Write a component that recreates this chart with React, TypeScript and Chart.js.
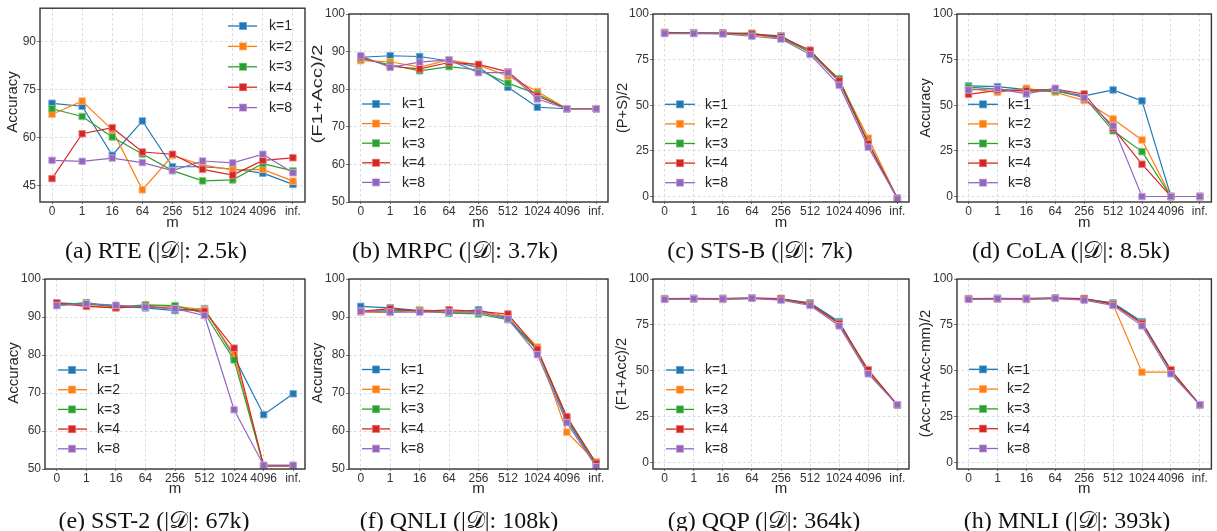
import React, { useEffect, useRef } from "react";
import { Chart, registerables } from "chart.js";
Chart.register(...registerables);

// ---------------- DATA ----------------
const mLabels = ["0", "1", "16", "64", "256", "512", "1024", "4096", "inf."];
const seriesNames = ["k=1", "k=2", "k=3", "k=4", "k=8"];
const seriesColors = ["#1f77b4", "#ff7f0e", "#2ca02c", "#d62728", "#9467bd"];
const seriesEdges = ["rgba(120,170,215,0.9)", "rgba(255,180,120,0.9)", "rgba(130,200,130,0.9)", "rgba(235,130,130,0.9)", "rgba(195,170,220,0.9)"];

// (a) RTE
const rteK1 = [70.8, 69.9, 54.6, 65.3, 51.0, 51.0, 50.3, 49.0, 45.5];
const rteK2 = [67.4, 71.5, 62.5, 43.8, 54.5, 51.5, 50.0, 50.2, 46.5];
const rteK3 = [69.1, 66.7, 60.3, 55.0, 49.8, 46.6, 46.9, 52.0, 49.7];
const rteK4 = [47.3, 61.3, 63.2, 55.6, 54.9, 50.2, 48.4, 53.0, 53.8];
const rteK8 = [53.0, 52.7, 53.7, 52.3, 49.8, 52.8, 52.2, 54.9, 49.1];
// (b) MRPC
const mrpcK1 = [88.5, 88.9, 88.7, 87.5, 85.8, 80.5, 75.2, 74.8, 74.8];
const mrpcK2 = [87.6, 87.3, 85.9, 87.8, 86.4, 83.5, 79.4, 74.8, 74.8];
const mrpcK3 = [88.2, 86.5, 84.9, 86.0, 85.1, 81.6, 78.7, 74.8, 74.8];
const mrpcK4 = [88.5, 86.1, 85.4, 87.1, 86.6, 84.6, 78.2, 74.8, 74.8];
const mrpcK8 = [88.9, 85.8, 87.2, 87.8, 84.4, 84.4, 77.4, 74.8, 74.8];
// (c) STS-B
const stsbK1 = [89.8, 89.8, 89.4, 89.0, 88.0, 79.0, 63.0, 29.0, -1];
const stsbK2 = [89.6, 89.5, 89.3, 88.8, 86.5, 79.5, 63.5, 32.0, -1];
const stsbK3 = [89.9, 89.6, 89.5, 89.5, 87.0, 79.0, 64.5, 29.5, -1];
const stsbK4 = [89.7, 89.4, 89.6, 89.0, 87.5, 80.2, 63.5, 29.0, -1];
const stsbK8 = [89.3, 89.3, 89.1, 87.8, 86.3, 77.8, 61.0, 27.0, -1];
// (d) CoLA
const colaK1 = [60.6, 60.2, 58.6, 58.0, 55.1, 58.4, 52.4, 0, 0];
const colaK2 = [59.3, 57.1, 59.3, 57.1, 52.6, 42.5, 31.0, 0, 0];
const colaK3 = [59.9, 58.8, 57.7, 57.8, 54.4, 36.0, 24.6, 0, 0];
const colaK4 = [56.0, 58.2, 58.0, 58.8, 56.2, 37.4, 17.7, 0, 0];
const colaK8 = [58.4, 59.1, 56.2, 59.3, 54.0, 38.7, 0, 0, 0];
// (e) SST-2
const sstK1 = [93.7, 93.4, 92.8, 92.4, 91.7, 92.2, 79.5, 64.3, 69.8];
const sstK2 = [93.4, 93.0, 92.4, 93.0, 92.8, 91.9, 80.1, 50.8, 50.8];
const sstK3 = [93.1, 93.8, 92.6, 93.2, 93.0, 91.0, 78.7, 50.8, 50.8];
const sstK4 = [93.7, 92.8, 92.4, 92.8, 92.2, 91.5, 81.8, 50.8, 50.8];
const sstK8 = [93.0, 93.5, 93.1, 92.6, 92.2, 90.4, 65.6, 51.0, 51.0];
// (f) QNLI
const qnliK1 = [92.8, 92.4, 91.7, 91.2, 91.9, 89.7, 81.4, 62.9, 51.0];
const qnliK2 = [91.3, 91.2, 91.9, 91.5, 91.2, 90.3, 82.1, 59.7, 51.9];
const qnliK3 = [91.5, 91.7, 91.7, 91.0, 90.8, 89.3, 81.2, 63.4, 51.3];
const qnliK4 = [91.5, 92.2, 91.5, 91.9, 91.5, 90.8, 81.5, 63.8, 51.5];
const qnliK8 = [91.5, 91.3, 91.3, 91.3, 91.3, 89.5, 80.1, 62.2, 50.6];
// (g) QQP
const qqpK1 = [89.3, 89.5, 89.4, 89.6, 89.2, 87.0, 76.8, 49.5, 31.5];
const qqpK2 = [89.0, 89.0, 88.8, 89.5, 89.0, 86.2, 75.5, 49.5, 31.5];
const qqpK3 = [89.2, 89.4, 89.3, 89.5, 89.1, 86.5, 76.0, 49.8, 31.5];
const qqpK4 = [89.1, 89.3, 89.4, 89.6, 89.4, 86.3, 75.8, 50.6, 31.5];
const qqpK8 = [88.9, 89.2, 89.1, 89.5, 88.5, 85.6, 74.5, 48.4, 31.5];
// (h) MNLI
const mnliK1 = [89.3, 89.5, 89.4, 89.6, 89.2, 87.0, 76.8, 50.0, 31.5];
const mnliK2 = [89.0, 89.0, 88.8, 89.5, 89.0, 86.2, 49.3, 49.3, 31.5];
const mnliK3 = [89.2, 89.4, 89.3, 89.5, 89.1, 86.5, 76.0, 49.8, 31.5];
const mnliK4 = [89.1, 89.3, 89.4, 89.6, 89.4, 86.3, 75.8, 50.6, 31.5];
const mnliK8 = [88.9, 89.2, 89.1, 89.5, 88.5, 85.6, 74.5, 48.4, 31.5];

const rteTicks = [45, 60, 75, 90];
const tenTicks = [50, 60, 70, 80, 90, 100];
const quarterTicks = [0, 25, 50, 75, 100];

const yTitles = ["Accuracy", "(F1+Acc)/2", "(P+S)/2", "Accuracy", "Accuracy", "Accuracy", "(F1+Acc)/2", "(Acc-m+Acc-mm)/2"];
const xTitle = "m";
const captionNames = ["(a) RTE", "(b) MRPC", "(c) STS-B", "(d) CoLA", "(e) SST-2", "(f) QNLI", "(g) QQP", "(h) MNLI"];
const captionSizes = ["2.5k", "3.7k", "7k", "8.5k", "67k", "108k", "364k", "393k"];

// ---------------- LAYOUT ----------------
const W = 1217;
const H = 531;
const YW = 40;
const XH = 30;
const SANS = "'Liberation Sans', Arial, sans-serif";
const TICK_FONT = { family: SANS, size: 12 };

type Lg = { x1: number; x2: number; mx: number; tx: number; y0: number; dy: number };
type PanelCfg = {
  series: number[][];
  yTitle: string;
  box: [number, number, number, number];
  yMin: number;
  yMax: number;
  yTicks: number[];
  yOff: number;
  yCy: number;
  yStretch: number;
  xOff: number;
  legend: Lg;
  cap: [number, number];
  capName: string;
  capSize: string;
};

const panels: PanelCfg[] = [
  { series: [rteK1, rteK2, rteK3, rteK4, rteK8], yTitle: yTitles[0], box: [40, 7, 305, 202], yMin: 40, yMax: 100.5, yTicks: rteTicks, yOff: 27, yCy: 102, yStretch: 1.0, xOff: 21, legend: { x1: 228, x2: 257, mx: 243, tx: 269, y0: 26, dy: 20.4 }, cap: [156, 250], capName: captionNames[0], capSize: captionSizes[0] },
  { series: [mrpcK1, mrpcK2, mrpcK3, mrpcK4, mrpcK8], yTitle: yTitles[1], box: [349, 14, 608, 202], yMin: 50, yMax: 100, yTicks: tenTicks, yOff: 31, yCy: 94, yStretch: 1.34, xOff: 21, legend: { x1: 362, x2: 390, mx: 376, tx: 402, y0: 104, dy: 19.6 }, cap: [455, 250], capName: captionNames[1], capSize: captionSizes[1] },
  { series: [stsbK1, stsbK2, stsbK3, stsbK4, stsbK8], yTitle: yTitles[2], box: [653, 14, 909, 202], yMin: -3, yMax: 100, yTicks: quarterTicks, yOff: 30, yCy: 108, yStretch: 0.98, xOff: 21, legend: { x1: 665, x2: 695, mx: 680, tx: 705, y0: 104.3, dy: 19.6 }, cap: [760, 250], capName: captionNames[2], capSize: captionSizes[2] },
  { series: [colaK1, colaK2, colaK3, colaK4, colaK8], yTitle: yTitles[3], box: [957, 14, 1215, 202], yMin: -3, yMax: 100, yTicks: quarterTicks, yOff: 31, yCy: 108, yStretch: 0.96, xOff: 21, legend: { x1: 968, x2: 998, mx: 983, tx: 1008, y0: 104.3, dy: 19.6 }, cap: [1071, 250], capName: captionNames[3], capSize: captionSizes[3] },
  { series: [sstK1, sstK2, sstK3, sstK4, sstK8], yTitle: yTitles[4], box: [45, 279, 305, 469], yMin: 50, yMax: 100, yTicks: tenTicks, yOff: 31, yCy: 373, yStretch: 1.0, xOff: 20, legend: { x1: 58, x2: 87, mx: 72, tx: 97, y0: 370, dy: 19.7 }, cap: [154, 520], capName: captionNames[4], capSize: captionSizes[4] },
  { series: [qnliK1, qnliK2, qnliK3, qnliK4, qnliK8], yTitle: yTitles[5], box: [349, 279, 608, 469], yMin: 50, yMax: 100, yTicks: tenTicks, yOff: 31, yCy: 373, yStretch: 0.98, xOff: 20, legend: { x1: 362, x2: 390, mx: 376, tx: 401, y0: 369.5, dy: 19.8 }, cap: [459, 520], capName: captionNames[5], capSize: captionSizes[5] },
  { series: [qqpK1, qqpK2, qqpK3, qqpK4, qqpK8], yTitle: yTitles[6], box: [653, 279, 909, 469], yMin: -3.4, yMax: 100, yTicks: quarterTicks, yOff: 31, yCy: 374, yStretch: 0.98, xOff: 20, legend: { x1: 666, x2: 694, mx: 680, tx: 705, y0: 370, dy: 19.7 }, cap: [764, 520], capName: captionNames[6], capSize: captionSizes[6] },
  { series: [mnliK1, mnliK2, mnliK3, mnliK4, mnliK8], yTitle: yTitles[7], box: [957, 279, 1215, 469], yMin: -3.4, yMax: 100, yTicks: quarterTicks, yOff: 31, yCy: 373.5, yStretch: 0.99, xOff: 20, legend: { x1: 969, x2: 998, mx: 983, tx: 1007, y0: 369.3, dy: 19.8 }, cap: [1067, 520], capName: captionNames[7], capSize: captionSizes[7] },
];

function decoPlugin(cfg: PanelCfg) {
  return {
    id: "deco",
    afterDatasetsDraw(chart: any) {
      const ctx = chart.ctx as CanvasRenderingContext2D;
      const ca = chart.chartArea;
      ctx.save();
      // frame
      ctx.strokeStyle = "#333333";
      ctx.lineWidth = 1.4;
      ctx.setLineDash([]);
      ctx.strokeRect(ca.left, ca.top, ca.right - ca.left, ca.bottom - ca.top);
      // legend
      const lg = cfg.legend;
      chart.data.datasets.forEach((ds: any, i: number) => {
        const y = lg.y0 + i * lg.dy;
        ctx.strokeStyle = ds.borderColor;
        ctx.lineWidth = 1.3;
        ctx.beginPath();
        ctx.moveTo(lg.x1, y);
        ctx.lineTo(lg.x2, y);
        ctx.stroke();
        ctx.fillStyle = ds.pointBorderColor;
        ctx.fillRect(lg.mx - 4, y - 4, 8, 8);
        ctx.fillStyle = ds.borderColor;
        ctx.fillRect(lg.mx - 3.3, y - 3.3, 6.6, 6.6);
        ctx.fillStyle = "#262626";
        ctx.font = "14px " + SANS;
        ctx.textAlign = "left";
        ctx.textBaseline = "middle";
        ctx.fillText(ds.label, lg.tx, y + 0.5);
      });
      // x title
      ctx.fillStyle = "#262626";
      ctx.font = "15px " + SANS;
      ctx.textAlign = "center";
      ctx.textBaseline = "middle";
      ctx.fillText(xTitle, (ca.left + ca.right) / 2, ca.bottom + cfg.xOff);
      // y title
      ctx.translate(ca.left - cfg.yOff, cfg.yCy);
      ctx.rotate(-Math.PI / 2);
      ctx.scale(cfg.yStretch, 1);
      ctx.font = "15px " + SANS;
      ctx.fillText(cfg.yTitle, 0, 0);
      ctx.restore();
    },
  };
}

function Panel({ cfg }: { cfg: PanelCfg }) {
  const ref = useRef<HTMLCanvasElement>(null);
  useEffect(() => {
    const [l, t, r, b] = cfg.box;
    const chart = new Chart(ref.current as HTMLCanvasElement, {
      type: "line",
      data: {
        datasets: cfg.series.map((vals, i) => ({
          label: seriesNames[i],
          data: mLabels.map((_, j) => ({ x: j, y: vals[j] })),
          borderColor: seriesColors[i],
          backgroundColor: seriesColors[i],
          pointBackgroundColor: seriesColors[i],
          pointBorderColor: seriesEdges[i],
          pointBorderWidth: 1,
          pointStyle: "rect",
          pointRadius: 4.6,
          borderWidth: 1.2,
          tension: 0,
          fill: false,
          order: 5 - i,
        })),
      },
      options: {
        animation: false,
        responsive: false,
        events: [],
        layout: { padding: { left: l - YW, top: t, right: W - r, bottom: H - b - XH } },
        plugins: { legend: { display: false }, tooltip: { enabled: false }, title: { display: false } },
        scales: {
          x: {
            type: "linear",
            min: -0.4,
            max: 8.4,
            afterBuildTicks: (s: any) => {
              s.ticks = mLabels.map((_, j) => ({ value: j }));
            },
            afterFit: (s: any) => {
              s.height = XH;
            },
            ticks: {
              autoSkip: false,
              maxRotation: 0,
              minRotation: 0,
              padding: 0,
              color: "#333333",
              font: TICK_FONT,
              callback: (v: any) => mLabels[v as number] ?? "",
            },
            grid: { color: "#d0d0d0", lineWidth: 0.8, drawTicks: true, tickLength: 2, tickColor: "#555555", tickWidth: 0.8 },
            border: { display: false, dash: [2.5, 2.5] },
          },
          y: {
            type: "linear",
            min: cfg.yMin,
            max: cfg.yMax,
            afterBuildTicks: (s: any) => {
              s.ticks = cfg.yTicks.map((v) => ({ value: v }));
            },
            afterFit: (s: any) => {
              s.width = YW;
            },
            ticks: { padding: 1, color: "#333333", font: TICK_FONT },
            grid: { color: "#d0d0d0", lineWidth: 0.8, drawTicks: true, tickLength: 3, tickColor: "#555555", tickWidth: 0.8 },
            border: { display: false, dash: [2.5, 2.5] },
          },
        },
      },
      plugins: [decoPlugin(cfg)],
    } as any);
    return () => chart.destroy();
  }, [cfg]);
  return (
    <canvas
      ref={ref}
      width={W}
      height={H}
      style={{ position: "absolute", left: 0, top: 0, width: W, height: H }}
    />
  );
}

export default function App() {
  return (
    <div style={{ position: "absolute", left: 0, top: 0, width: W, height: H, background: "#ffffff", overflow: "hidden" }}>
      {panels.map((p, i) => (
        <Panel key={i} cfg={p} />
      ))}
      {panels.map((p, i) => (
        <div
          key={"c" + i}
          style={{
            position: "absolute",
            left: p.cap[0],
            top: p.cap[1],
            transform: "translate(-50%, -50%)",
            whiteSpace: "nowrap",
            fontFamily: "'Liberation Serif', 'Times New Roman', serif",
            fontSize: 24,
            color: "#111111",
            lineHeight: 1,
          }}
        >
          {p.capName} (|
          <span style={{ fontFamily: "'DejaVu Serif', 'DejaVu Sans', 'Noto Sans', serif", fontStyle: "normal" }}>𝒟</span>
          |: {p.capSize})
        </div>
      ))}
    </div>
  );
}
